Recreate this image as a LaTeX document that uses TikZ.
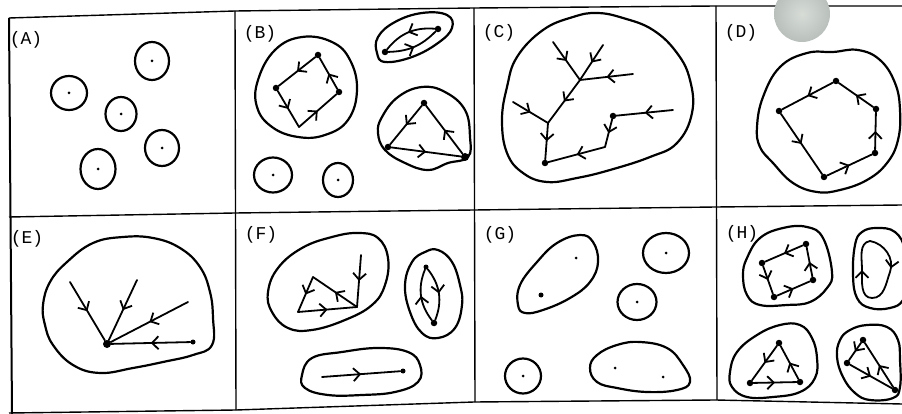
\documentclass[tikz,border=0pt]{standalone}
\usepackage{fontspec}
\setmonofont{Liberation Mono}
\usetikzlibrary{arrows.meta,decorations.markings}
\begin{document}
\begin{tikzpicture}[x=1pt,y=-1pt,
  frame/.style={line width=1.4pt, line join=round},
  blob/.style={line width=2.2pt, line join=round},
  edge/.style={line width=1.8pt, line cap=round, postaction={decorate},
    decoration={markings, mark=at position 0.5 with {\arrow{Straight Barb[length=6.5pt,width=13pt,line width=1.8pt]}}}},
  dot/.style={circle, fill, inner sep=0pt, minimum size=6.5pt},
  bdot/.style={circle, fill, inner sep=0pt, minimum size=8pt},
  sdot/.style={circle, fill, inner sep=0pt, minimum size=3pt},
  lab/.style={font=\ttfamily\fontsize{18}{18}\selectfont, inner sep=0pt}]
\path[use as bounding box, fill=white] (0,0) rectangle (902,414);
\clip (0,0) rectangle (902,414);
% ---------- frame ----------
\draw[frame] (9,18) -- (235,11) -- (474,8) -- (716,6) -- (902,6);
\draw[frame] (9,217) -- (235,213) -- (474,210) -- (716,207) -- (902,205);
\draw[frame] (9,413) -- (236,410) -- (474,402) -- (716,400) -- (902,404);
\draw[frame, line width=2pt] (9,18) -- (12,414);
\draw[frame] (235,11) -- (236,410);
\draw[frame] (474,8) -- (475,402);
\draw[frame] (716,6) -- (717,400);
\shade[inner color={rgb,255:red,215;green,220;blue,215}, outer color={rgb,255:red,185;green,192;blue,188}] (802,14) circle[radius=28pt];
% ---------- labels ----------
\node[lab] (labA) at (26,40) {(A)};
\node[lab] (labB) at (260,34) {(B)};
\node[lab] (labC) at (499,33) {(C)};
\node[lab] (labD) at (741,33) {(D)};
\node[lab] (labE) at (27,239) {(E)};
\node[lab] (labF) at (261,235) {(F)};
\node[lab] (labG) at (500,235) {(G)};
\node[lab] (labH) at (742,234) {(H)};
% ---------- (A) ----------
\draw[blob] (152,61) ellipse[x radius=17pt, y radius=19pt];
\draw[blob] (69,93) ellipse[x radius=18pt, y radius=17pt];
\draw[blob] (121,114) ellipse[x radius=15.5pt, y radius=17pt];
\draw[blob] (162,148) ellipse[x radius=17pt, y radius=18pt];
\draw[blob] (98,169) ellipse[x radius=17.5pt, y radius=20pt];
\node[sdot] (a1) at (152,61) {};
\node[sdot] (a2) at (69,93) {};
\node[sdot] (a3) at (121,114) {};
\node[sdot] (a4) at (162,148) {};
\node[sdot] (a5) at (98,169) {};
% ---------- (B) ----------
\draw[blob] plot[smooth cycle, tension=0.7] coordinates {(258,80) (275,50) (302,37) (332,42) (350,60) (357,90) (348,120) (325,135) (298,137) (272,127) (257,107)};
\node[dot] (bq1) at (318,55) {};
\node[dot] (bq2) at (276,88) {};
\coordinate (bq3) at (299,127);
\node[dot] (bq4) at (339,92) {};
\draw[edge] (bq1) -- (bq2);
\draw[edge] (bq2) -- (bq3);
\draw[edge] (bq3) -- (bq4);
\draw[edge] (bq4) -- (bq1);
\draw[blob] plot[smooth cycle, tension=0.7] coordinates {(377,53) (378,37) (395,22) (422,13) (447,15) (452,28) (438,43) (412,57) (385,62)};
\node[dot] (bl1) at (385,52) {};
\node[dot] (bl2) at (438,29) {};
\draw[edge] (bl2) to[bend right=28] (bl1);
\draw[edge] (bl1) to[bend right=22] (bl2);
\draw[blob] plot[smooth cycle, tension=0.7] coordinates {(382,117) (398,97) (422,87) (445,92) (465,110) (470,137) (468,157) (448,163) (428,170) (405,163) (385,150) (378,133)};
\node[dot] (bt1) at (424,103) {};
\node[dot] (bt2) at (388,147) {};
\node[bdot] (bt3) at (465,157) {};
\draw[edge] (bt1) -- (bt2);
\draw[edge] (bt2) -- (bt3);
\draw[edge] (bt3) -- (bt1);
\draw[blob] (273,175) ellipse[x radius=19pt, y radius=17.5pt];
\draw[blob] (338,180) ellipse[x radius=15pt, y radius=17pt];
\node[sdot] (bc1) at (273,175) {};
\node[sdot] (bc2) at (338,180) {};
% ---------- (C) ----------
\draw[blob] plot[smooth cycle, tension=0.7] coordinates {(507,87) (517,57) (543,30) (573,17) (597,13) (623,18) (653,30) (677,53) (690,80) (692,113) (677,143) (650,157) (610,170) (577,178) (547,182) (523,173) (507,153) (502,120)};
\node[dot] (cr) at (545,163) {};
\coordinate (cj1) at (548,123);
\coordinate (cl1) at (513,102);
\coordinate (cj2) at (580,80);
\coordinate (cb1) at (553,42);
\coordinate (cb2) at (603,45);
\coordinate (cb3) at (633,74);
\coordinate (cs1) at (673,110);
\node[dot] (cn1) at (613,116) {};
\coordinate (ck1) at (605,147);
\draw[edge] (cb1) -- (cj2);
\draw[edge] (cb2) -- (cj2);
\draw[edge] (cb3) -- (cj2);
\draw[edge] (cj2) -- (cj1);
\draw[edge] (cl1) -- (cj1);
\draw[edge] (cj1) -- (cr);
\draw[edge] (cs1) -- (cn1);
\draw[edge] (cn1) -- (ck1);
\draw[edge] (ck1) -- (cr);
% ---------- (D) ----------
\draw[blob] plot[smooth cycle, tension=0.7] coordinates {(757,127) (763,97) (780,67) (807,53) (833,52) (858,50) (880,60) (895,83) (900,110) (898,140) (887,163) (867,180) (840,190) (817,192) (793,183) (773,163) (760,147)};
\node[dot] (d1) at (836,81) {};
\node[dot] (d2) at (779,111) {};
\node[dot] (d3) at (824,177) {};
\node[dot] (d4) at (875,153) {};
\node[dot] (d5) at (876,109) {};
\draw[edge] (d1) -- (d2);
\draw[edge] (d2) -- (d3);
\draw[edge] (d3) -- (d4);
\draw[edge] (d4) -- (d5);
\draw[edge] (d5) -- (d1);
% ---------- (E) ----------
\draw[blob] plot[smooth cycle, tension=0.7] coordinates {(43,305) (50,282) (67,262) (93,243) (123,237) (153,238) (180,248) (200,267) (210,292) (213,318) (212,345) (193,355) (163,362) (133,368) (100,373) (73,365) (53,345) (45,325)};
\node[bdot] (e0) at (107,344) {};
\coordinate (e1) at (70,282);
\coordinate (e2) at (137,280);
\coordinate (e3) at (188,302);
\node[sdot, minimum size=5pt] (e4) at (193,342) {};
\draw[edge] (e1) -- (e0);
\draw[edge] (e2) -- (e0);
\draw[edge] (e3) -- (e0);
\draw[edge] (e4) -- (e0);
% ---------- (F) ----------
\draw[blob] plot[smooth cycle, tension=0.7] coordinates {(268,292) (278,268) (302,248) (332,237) (358,233) (378,238) (388,258) (385,285) (372,305) (345,320) (312,330) (288,328) (272,312)};
\coordinate (f1) at (313,277);
\coordinate (f2) at (298,312);
\coordinate (f3) at (357,307);
\coordinate (f4) at (361,255);
\draw[edge] (f1) -- (f2);
\draw[edge] (f2) -- (f3);
\draw[edge] (f3) -- (f1);
\draw[edge] (f4) -- (f3);
\draw[blob] plot[smooth cycle, tension=0.7] coordinates {(405,285) (412,262) (425,252) (438,250) (452,262) (460,285) (462,305) (455,328) (438,338) (422,333) (410,312)};
\node[dot, minimum size=5pt] (f5) at (426,267) {};
\node[dot] (f6) at (434,323) {};
\draw[edge] (f5) to[bend left=30] (f6);
\draw[edge] (f6) to[bend left=30] (f5);
\draw[blob] plot[smooth cycle, tension=0.7] coordinates {(302,375) (312,358) (342,352) (378,348) (408,352) (420,365) (418,382) (395,392) (362,395) (328,395) (305,388)};
\coordinate (f7) at (322,377);
\node[dot, minimum size=5pt] (f8) at (403,371) {};
\draw[edge] (f7) -- (f8);
% ---------- (G) ----------
\draw[blob] plot[smooth cycle, tension=0.7] coordinates {(518,305) (520,285) (537,262) (557,243) (580,235) (593,242) (598,262) (590,282) (570,298) (543,310) (525,313)};
\node[sdot] (g1) at (576,258) {};
\node[sdot, minimum size=5pt] (g2) at (541,295) {};
\draw[blob] (666,253) ellipse[x radius=23pt, y radius=20pt];
\node[sdot] (g3) at (666,253) {};
\draw[blob] (637,302) ellipse[x radius=19.5pt, y radius=18pt];
\node[sdot] (g4) at (637,302) {};
\draw[blob] (523,376) ellipse[x radius=18pt, y radius=17.5pt];
\node[sdot] (g5) at (523,376) {};
\draw[blob] plot[smooth cycle, tension=0.7] coordinates {(590,368) (597,355) (617,345) (640,342) (667,348) (683,365) (690,382) (677,390) (647,392) (617,388) (597,382)};
\node[sdot] (g6) at (615,368) {};
\node[sdot] (g7) at (663,377) {};
% ---------- (H) ----------
\draw[blob] plot[smooth cycle, tension=0.7] coordinates {(747,258) (760,238) (783,228) (807,227) (823,238) (832,272) (827,288) (810,302) (787,305) (760,305) (747,295) (743,275)};
\node[dot] (hq1) at (806,244) {};
\node[dot] (hq2) at (762,263) {};
\node[dot] (hq3) at (774,297) {};
\node[dot] (hq4) at (813,280) {};
\draw[edge] (hq1) -- (hq2);
\draw[edge] (hq2) -- (hq3);
\draw[edge] (hq3) -- (hq4);
\draw[edge] (hq4) -- (hq1);
\draw[blob] plot[smooth cycle, tension=0.7] coordinates {(853,275) (855,245) (862,232) (877,228) (895,232) (905,250) (907,280) (903,300) (890,308) (870,308) (857,298)};
\coordinate (hl1) at (870,241);
\coordinate (hl2) at (872,298);
\draw[edge] (hl1) to[out=-10, in=70] (890,272) to[out=-110, in=0] (hl2);
\draw[edge] (hl2) to[out=180, in=-90] (862,270) to[out=90, in=190] (hl1);
\draw[blob] plot[smooth cycle, tension=0.7] coordinates {(730,372) (737,352) (757,335) (780,325) (800,325) (812,338) (817,358) (815,378) (800,392) (773,397) (747,397) (732,387)};
\node[dot] (ht1) at (779,343) {};
\node[dot] (ht2) at (750,383) {};
\node[dot] (ht3) at (800,382) {};
\draw[edge] (ht1) -- (ht2);
\draw[edge] (ht2) -- (ht3);
\draw[edge] (ht3) -- (ht1);
\draw[blob] plot[smooth cycle, tension=0.7] coordinates {(840,340) (850,330) (867,325) (887,327) (898,340) (900,360) (900,387) (893,398) (870,400) (855,393) (843,377) (837,357)};
\node[dot] (hr1) at (863,340) {};
\node[dot] (hr2) at (847,363) {};
\node[dot] (hr3) at (895,390) {};
\draw[edge] (hr1) -- (hr2);
\draw[edge] (hr2) -- (hr3);
\draw[edge] (hr3) -- (hr1);
\end{tikzpicture}
\end{document}
